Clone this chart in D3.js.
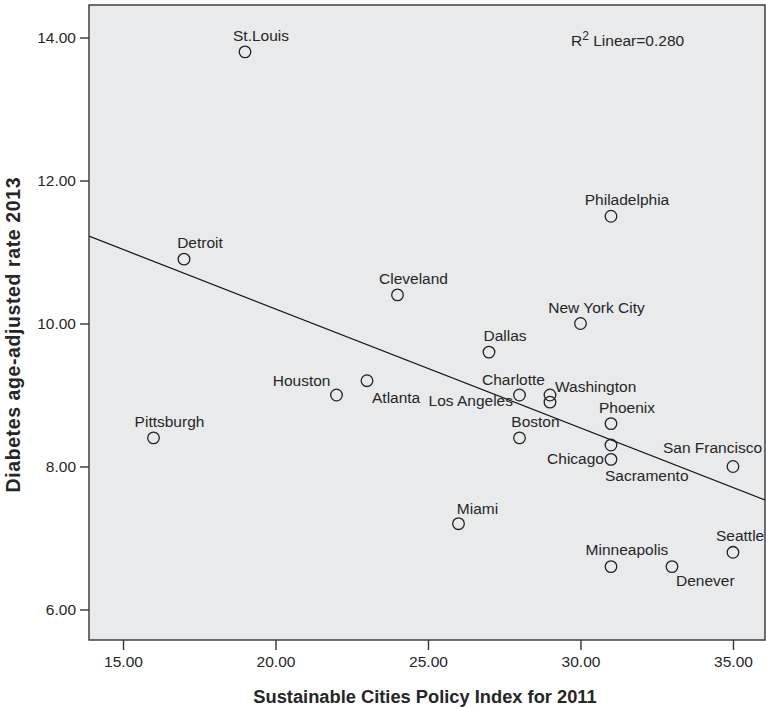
<!DOCTYPE html>
<html>
<head>
<meta charset="utf-8">
<script src="https://cdn.jsdelivr.net/npm/d3@7"></script>
<style>
  html, body { margin: 0; padding: 0; background: #fff; }
  svg { display: block; }
  text { font-family: "Liberation Sans", Arial, Helvetica, sans-serif; fill: #262626; }
</style>
</head>
<body>
<svg id="chart" width="766" height="708"></svg>
<script>
// Sustainable Cities Policy Index (2011) vs diabetes age-adjusted rate (2013)
const cities = ["St.Louis", "Detroit", "Pittsburgh", "Houston", "Atlanta", "Cleveland",
  "Dallas", "Charlotte", "Boston", "Washington", "Los Angeles", "New York City",
  "Philadelphia", "Phoenix", "Sacramento", "Chicago", "San Francisco", "Miami",
  "Minneapolis", "Denever", "Seattle"];
const policyIndex = [19, 17, 16, 22, 23, 24, 27, 28, 28, 29, 29, 30, 31, 31, 31, 31, 35, 26, 31, 33, 35];
const diabetesRate = [13.8, 10.9, 8.4, 9.0, 9.2, 10.4, 9.6, 9.0, 8.4, 9.0, 8.9, 10.0, 11.5, 8.6, 8.3, 8.1, 8.0, 7.2, 6.6, 6.6, 6.8];
const xTicks = [15, 20, 25, 30, 35];
const yTicks = [6, 8, 10, 12, 14];

// label placement: [text-anchor, dx, dy] relative to the point
const defaultPlacement = ["middle", 16, -11];
const labelPlacement = {
  "Houston": ["end", -6, -9],
  "Atlanta": ["start", 5, 22],
  "Los Angeles": ["end", -37, 4],
  "Charlotte": ["middle", -6, -10],
  "Washington": ["start", 5, -3],
  "Chicago": ["end", -7, 5],
  "Sacramento": ["start", -6, 36],
  "San Francisco": ["start", -70, -13],
  "Seattle": ["start", -17, -11],
  "Denever": ["start", 4, 19],
  "Minneapolis": ["middle", 16, -12],
  "Miami": ["middle", 19, -10]
};

const svg = d3.select("#chart");
const plot = { left: 89, right: 765, top: 5, bottom: 640 };

const x = d3.scaleLinear().domain([13.885, 36.05]).range([plot.left, plot.right]);
const y = d3.scaleLinear().domain([5.573, 14.455]).range([plot.bottom, plot.top]);

const points = cities.map((c, i) => ({ city: c, x: policyIndex[i], y: diabetesRate[i] }));

// plot background
svg.append("rect")
  .attr("x", plot.left).attr("y", plot.top)
  .attr("width", plot.right - plot.left).attr("height", plot.bottom - plot.top)
  .attr("fill", "#e9eaec");

svg.append("clipPath").attr("id", "plot-clip")
  .append("rect")
  .attr("x", plot.left).attr("y", plot.top)
  .attr("width", plot.right - plot.left).attr("height", plot.bottom - plot.top);

// least-squares fit
const mx = d3.mean(points, d => d.x), my = d3.mean(points, d => d.y);
const sxy = d3.sum(points, d => (d.x - mx) * (d.y - my));
const sxx = d3.sum(points, d => (d.x - mx) ** 2);
const syy = d3.sum(points, d => (d.y - my) ** 2);
const slope = sxy / sxx, intercept = my - slope * mx;
const r2 = (sxy * sxy) / (sxx * syy);

const [x0, x1] = x.domain();
svg.append("line")
  .attr("clip-path", "url(#plot-clip)")
  .attr("x1", x(x0)).attr("y1", y(intercept + slope * x0))
  .attr("x2", x(x1)).attr("y2", y(intercept + slope * x1))
  .attr("stroke", "#111").attr("stroke-width", 1.2);

// points
svg.append("g").selectAll("circle").data(points).join("circle")
  .attr("cx", d => x(d.x)).attr("cy", d => y(d.y)).attr("r", 5.8)
  .attr("fill", "none").attr("stroke", "#222").attr("stroke-width", 1.3);

// point labels
svg.append("g").selectAll("text").data(points).join("text")
  .each(function (d) {
    const p = labelPlacement[d.city] || defaultPlacement;
    d3.select(this)
      .attr("x", x(d.x) + p[1]).attr("y", y(d.y) + p[2])
      .attr("text-anchor", p[0]);
  })
  .style("font-size", "15.5px")
  .text(d => d.city);

// R squared annotation
const r2Text = svg.append("text")
  .attr("x", 571).attr("y", 46)
  .style("font-size", "15.5px");
r2Text.append("tspan").text("R");
r2Text.append("tspan").attr("dy", -6).style("font-size", "12px").text("2");
r2Text.append("tspan").attr("dy", 6).text(" Linear=" + r2.toFixed(3));

// frame
svg.append("rect")
  .attr("x", plot.left).attr("y", plot.top)
  .attr("width", plot.right - plot.left).attr("height", plot.bottom - plot.top)
  .attr("fill", "none").attr("stroke", "#333").attr("stroke-width", 1.4);

// axes
const fmt = d3.format(".2f");
const xAxis = svg.append("g")
  .attr("transform", `translate(0,${plot.bottom})`)
  .call(d3.axisBottom(x).tickValues(xTicks).tickFormat(fmt).tickSize(10).tickPadding(6));
const yAxis = svg.append("g")
  .attr("transform", `translate(${plot.left},0)`)
  .call(d3.axisLeft(y).tickValues(yTicks).tickFormat(fmt).tickSize(9).tickPadding(4));

[xAxis, yAxis].forEach(g => {
  g.select(".domain").remove();
  g.selectAll(".tick line").attr("stroke", "#333").attr("stroke-width", 1.4);
  g.selectAll(".tick text")
    .style("font-size", "15.5px")
    .style("font-family", "'Liberation Sans', Arial, Helvetica, sans-serif")
    .attr("fill", "#262626");
});

// axis titles
svg.append("text")
  .attr("x", 425).attr("y", 703)
  .attr("text-anchor", "middle")
  .style("font-size", "18.3px").style("font-weight", "bold")
  .text("Sustainable Cities Policy Index for 2011");

svg.append("text")
  .attr("transform", `translate(20,335) rotate(-90)`)
  .attr("text-anchor", "middle")
  .attr("textLength", 315).attr("lengthAdjust", "spacing")
  .style("font-size", "19.5px").style("font-weight", "bold")
  .text("Diabetes age-adjusted rate 2013");
</script>
</body>
</html>
